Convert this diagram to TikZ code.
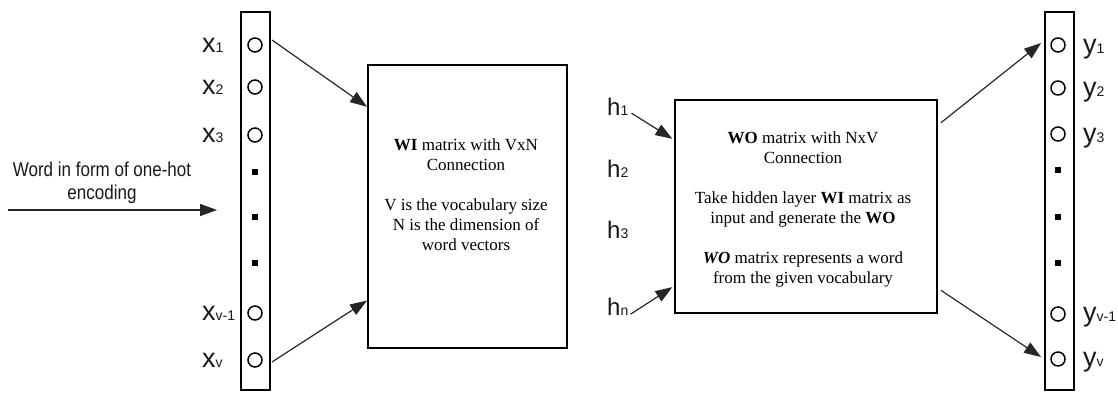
\documentclass[tikz,border=0pt]{standalone}
\usepackage{fontspec}
\setmainfont{Liberation Serif}
\newfontfamily\labfont{Liberation Sans}
\newfontfamily\narrowfont[FakeStretch=0.85]{Liberation Sans}
\usetikzlibrary{arrows.meta,calc}
\newcommand\lsub[1]{{\fontsize{14}{14}\selectfont #1}}
\begin{document}
\begin{tikzpicture}[x=1pt,y=-1pt,
  bar/.style={draw,line width=1.9pt,minimum width=29pt,minimum height=378pt,inner sep=0pt},
  neuron/.style={circle,draw,line width=1.5pt,minimum size=14pt,inner sep=0pt},
  dotn/.style={fill,minimum size=5.5pt,inner sep=0pt},
  matbox/.style={draw,line width=1.9pt,inner sep=0pt},
  arr/.style={line width=1.2pt,draw=black!85,-{Triangle[length=17pt,width=12pt]}},
  lab/.style={font=\labfont\fontsize{27}{27}\selectfont,anchor=base west,inner sep=0pt,text=black!90},
  hlab/.style={font=\labfont\fontsize{24}{24}\selectfont,anchor=base west,inner sep=0pt,text=black!90},
  boxtext/.style={align=center,font=\fontsize{17}{20}\selectfont,text=black,inner sep=0pt}
]
\useasboundingbox (0,0) rectangle (1118,392);

% left column
\node[bar] (L) at (255.5,201) {};
\node[neuron] (x1) at (255,45) {};
\node[neuron] (x2) at (255,87) {};
\node[neuron] (x3) at (255,135) {};
\node[dotn] (xd1) at (255,172) {};
\node[dotn] (xd2) at (255,217) {};
\node[dotn] (xd3) at (255,263) {};
\node[neuron] (xv1) at (255,313) {};
\node[neuron] (xv) at (255,360) {};
\node[lab] (lx1) at (202,52) {x\lsub{1}};
\node[lab] (lx2) at (202,94) {x\lsub{2}};
\node[lab] (lx3) at (202,142) {x\lsub{3}};
\node[lab] (lxv1) at (202,320) {x\lsub{v-1}};
\node[lab] (lxv) at (202,367) {x\lsub{v}};

% input
\node[font=\narrowfont\fontsize{20}{23}\selectfont,align=center,text=black!90,inner sep=0pt] (word) at (102,183) {Word in form of one-hot\\encoding};
\coordinate (in) at (8,210);
\draw[arr] (in) -- ($(L.west |- in)+(-23,0)$);

% WI box
\node[matbox,minimum width=199pt,minimum height=283pt] (WI) at (467.5,206.5) {};
\node[boxtext] (wit) at (466,195) {\textbf{WI} matrix with VxN\\Connection\\[20pt]V is the vocabulary size\\N is the dimension of\\word vectors};

\draw[arr] ($(L.east |- x1.center)+(1,-5)$) -- ($(WI.north west)!0.15!(WI.south west)$);
\draw[arr] ($(L.east |- xv.center)+(1,2)$) -- ($(WI.north west)!0.83!(WI.south west)$);

% h labels
\node[hlab] (h1) at (607,115) {h\lsub{1}};
\node[hlab] (h2) at (607,177) {h\lsub{2}};
\node[hlab] (h3) at (607,238) {h\lsub{3}};
\node[hlab] (hn) at (607,315) {h\lsub{n}};

% WO box
\node[matbox,minimum width=262pt,minimum height=213pt] (WO) at (806,206.5) {};
\node[boxtext] (wot) at (803,209) {\textbf{WO} matrix with NxV\\Connection\\[20pt]Take hidden layer \textbf{WI} matrix as\\input and generate the \textbf{WO}\\[20pt]\textbf{\textit{WO}} matrix represents a word\\from the given vocabulary};

\draw[arr,shorten >=2pt] ($(h1.south east)+(3,-2)$) -- ($(WO.north west)!0.19!(WO.south west)$);
\draw[arr,shorten >=2pt] ($(hn.south east)+(2,-1)$) -- ($(WO.north west)!0.87!(WO.south west)$);

% right column
\node[bar] (R) at (1059.5,201) {};
\node[neuron] (y1) at (1058,45) {};
\node[neuron] (y2) at (1058,88) {};
\node[neuron] (y3) at (1058,134) {};
\node[dotn] (yd1) at (1058,170) {};
\node[dotn] (yd2) at (1058,217) {};
\node[dotn] (yd3) at (1058,263) {};
\node[neuron] (yv1) at (1058,314) {};
\node[neuron] (yv) at (1058,359) {};
\node[lab] (ly1) at (1083,53) {y\lsub{1}};
\node[lab] (ly2) at (1083,96) {y\lsub{2}};
\node[lab] (ly3) at (1083,142) {y\lsub{3}};
\node[lab] (lyv1) at (1083,321) {y\lsub{v-1}};
\node[lab] (lyv) at (1083,366) {y\lsub{v}};

\draw[arr] ($(WO.north east)!0.11!(WO.south east)+(3,0)$) -- ($(R.west |- y1.center)+(-3,-2)$);
\draw[arr] ($(WO.north east)!0.89!(WO.south east)+(3,0)$) -- ($(R.west |- yv.center)+(-3,-2)$);
\end{tikzpicture}
\end{document}
